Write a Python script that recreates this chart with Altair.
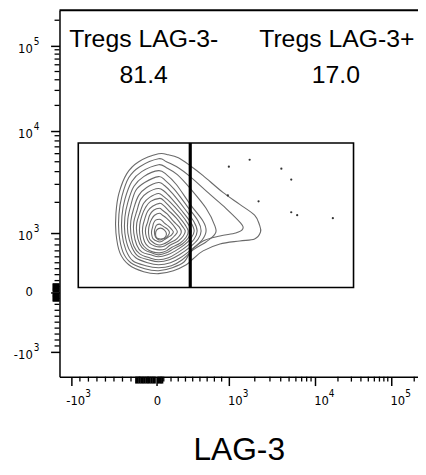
import math
import altair as alt
import pandas as pd

# ---------------- axis calibration (display channel units at decade ticks) ----
X_TICK_VALUES = [-1000, 0, 1000, 10000, 100000]
X_TICK_DISPLAY = [12, 98, 171, 258, 335]
X_TICK_BASE = ["-10", "0", "10", "10", "10"]
X_TICK_EXP = ["3", "", "3", "4", "5"]

Y_TICK_VALUES = [-1000, 0, 1000, 10000, 100000]
Y_TICK_DISPLAY = [25, 85, 145, 248, 334]
Y_TICK_BASE = ["-10", "0", "10", "10", "10"]
Y_TICK_EXP = ["3", "", "3", "4", "5"]

MINOR_LINEAR = [-900, -800, -700, -600, -500, -400, -300, -200, -100,
                100, 200, 300, 400, 500, 600, 700, 800, 900]
MINOR_DENSE_X = [-240, -220, -200, -180, -160, -140, -120, -100, -80, -60,
                 -40, -20, 20, 40, 60, 80]
MINOR_DENSE_Y = [-140, -120, -100, -80, -60, -40, -20, 20, 40, 60, 80, 100,
                 120, 140]
MINOR_LOG = [2000, 3000, 4000, 5000, 6000, 7000, 8000, 9000,
             20000, 30000, 40000, 50000, 60000, 70000, 80000, 90000, 200000]

# ---------------- gates (fluorescence values) --------------------------------
GATE_X = [-919, 466, 32000]      # left edge, LAG-3 split, right edge
GATE_Y = [83, 7640]              # bottom, top
GATE_NAMES = ["Tregs LAG-3-", "Tregs LAG-3+"]
GATE_PCTS = ["81.4", "17.0"]
NAME_X = [85, 280]
NAME_Y = [333, 333]
PCT_X = [85, 279]
PCT_Y = [297, 297]

# ---------------- contour lines (display units) ------
CONTOURS = [
    [(100,225),(80,217),(68,205),(60,185),(57,165),(57,145),(61,125),(70,113),(85,106),(100,104),(115,107),(128,113),(135,119),(145,127),(162,134),(182,137),(197,139),(203,146),(202,153),(197,163),(182,174),(165,186),(145,203),(132,213),(120,221),(110,224)],
    [(100,220),(81,212),(70,201),(63,182),(60,164),(60,145),(64,126),(72,115),(86,109),(100,107),(114,110),(126,116),(133,127),(145,137),(162,142),(178,145),(185,149),(183,155),(168,170),(152,184),(132,202),(120,211),(108,217)],
    [(100,214),(83,207),(73,197),(66,179),(63,162),(63,145),(67,128),(74,117),(87,112),(100,110),(113,112),(124,118),(135,128),(148,136),(157,144),(157,152),(148,170),(132,190),(119,204),(108,211)],
    [(100,208),(85,202),(75,192),(69,176),(66,161),(66,145),(70,129),(77,120),(89,115),(100,113),(112,115),(122,120),(134,129),(144,138),(148,147),(145,157),(132,174),(118,194),(108,204)],
    [(100,202),(86,196),(77,188),(72,173),(69,159),(69,145),(73,131),(79,122),(90,118),(100,116),(111,118),(121,123),(132,131),(140,139),(143,147),(140,157),(129,172),(116,189),(107,198)],
    [(100,196),(88,191),(80,183),(75,170),(72,157),(72,145),(75,132),(81,124),(91,120),(100,118),(110,120),(119,125),(129,132),(136,139),(139,147),(136,156),(126,170),(114,185),(106,193)],
    [(100,190),(89,186),(82,179),(78,167),(75,156),(75,145),(78,133),(83,126),(92,123),(100,121),(109,123),(117,127),(126,133),(133,140),(136,147),(133,155),(124,167),(113,180),(106,187)],
    [(100,185),(91,181),(85,175),(81,165),(78,155),(78,145),(81,134),(86,128),(93,125),(100,123),(108,125),(115,129),(124,134),(130,140),(133,147),(130,154),(122,165),(112,176),(105,182)],
    [(101,180),(92,177),(87,171),(83,162),(81,153),(81,144),(83,135),(88,129),(94,126),(101,125),(108,127),(114,131),(122,135),(128,141),(130,147),(127,153),(120,162),(111,172),(105,178)],
    [(101,175),(94,172),(89,167),(86,159),(84,151),(84,144),(86,136),(90,131),(95,129),(101,128),(107,129),(112,133),(120,137),(125,142),(127,147),(124,152),(118,160),(110,168),(105,173)],
    [(101,170),(95,168),(91,163),(89,156),(87,150),(87,144),(89,138),(92,134),(96,132),(101,131),(106,132),(111,135),(117,138),(121,142),(123,146),(121,151),(115,157),(109,164),(104,168)],
    [(101,165),(96,163),(93,159),(91,154),(90,149),(90,144),(91,139),(94,136),(97,134),(101,133),(105,134),(109,136),(113,139),(116,142),(119,146),(117,150),(113,155),(108,160),(104,163)],
    [(101,159),(97,158),(95,155),(94,151),(93,147),(93,144),(94,140),(96,138),(98,137),(101,136),(104,137),(107,139),(110,141),(113,143),(115,146),(113,149),(110,152),(106,155),(103,158)],
    [(101,154),(98,153),(97,151),(96,148),(96,144),(97,141),(99,139),(101,138),(104,139),(107,140),(110,143),(111,146),(109,149),(106,151),(103,153)],
    [(102,150),(98,148),(97,144),(98,140),(102,139),(106,140),(108,144),(106,148)],
]

# scattered single events in the LAG-3+ gate (display units)
DOT_X = [171, 192, 224, 234, 170, 201, 234, 240, 276]
DOT_Y = [212, 219, 210, 199, 183, 177, 166, 163, 160]

W, H = 362, 370
LABEL_FONT = "Liberation Sans Narrow, DejaVu Sans Condensed, Liberation Sans, sans-serif"


def to_display(v, knots):
    a, z, b, c, d = knots
    if v <= 0:
        return z + (v / 1000.0) * (z - a)
    if v <= 1000:
        return z + (v / 1000.0) * (b - z)
    lg = math.log10(v)
    if lg <= 4:
        return b + (lg - 3) * (c - b)
    return c + (lg - 4) * (d - c)


xscale = alt.Scale(domain=[0, W], nice=False, zero=False)
yscale = alt.Scale(domain=[0, H], nice=False, zero=False)

x_axis = alt.Axis(values=X_TICK_DISPLAY, labels=False,
                  title="LAG-3", titleFontSize=32, titleFont="Liberation Sans",
                  titleFontWeight="normal", titleColor="black", titlePadding=49)
y_axis = alt.Axis(values=Y_TICK_DISPLAY, labels=False, title="")


def X(field="x"):
    return alt.X(f"{field}:Q", scale=xscale, axis=x_axis)


def Y(field="y"):
    return alt.Y(f"{field}:Q", scale=yscale, axis=y_axis)


# contour table
rows = []
for ci, ring in enumerate(CONTOURS):
    for pi, (px, py) in enumerate(ring):
        rows.append({"c": ci, "i": pi, "x": px, "y": py})
cdf = pd.DataFrame(rows)

contours = alt.Chart(cdf).mark_line(
    interpolate="cardinal-closed", color="#6a6a6a", strokeWidth=1.1
).encode(x=X(), y=Y(), detail="c:N", order="i:Q")

# gate rectangle and split
gdf = pd.DataFrame({
    "x": [to_display(GATE_X[0], X_TICK_DISPLAY)],
    "x2": [to_display(GATE_X[2], X_TICK_DISPLAY)],
    "y": [to_display(GATE_Y[0], Y_TICK_DISPLAY)],
    "y2": [to_display(GATE_Y[1], Y_TICK_DISPLAY)],
})
gate = alt.Chart(gdf).mark_rect(fillOpacity=0, stroke="black", strokeWidth=1.6).encode(
    x=X(), x2="x2:Q", y=Y(), y2="y2:Q")

sdf = pd.DataFrame({
    "x": [to_display(GATE_X[1], X_TICK_DISPLAY)],
    "y": [to_display(GATE_Y[0], Y_TICK_DISPLAY)],
    "y2": [to_display(GATE_Y[1], Y_TICK_DISPLAY)],
})
split = alt.Chart(sdf).mark_rule(color="black", strokeWidth=3.2).encode(x=X(), y=Y(), y2="y2:Q")

dots = alt.Chart(pd.DataFrame({"x": DOT_X, "y": DOT_Y})).mark_circle(
    size=5, color="#333333", opacity=1).encode(x=X(), y=Y())

names = alt.Chart(pd.DataFrame({"x": NAME_X, "y": NAME_Y, "t": GATE_NAMES})).mark_text(
    font="Liberation Sans", fontSize=25, color="black", align="center", baseline="alphabetic"
).encode(x=X(), y=Y(), text="t:N")
pcts = alt.Chart(pd.DataFrame({"x": PCT_X, "y": PCT_Y, "t": GATE_PCTS})).mark_text(
    font="Liberation Sans", fontSize=25, color="black", align="center", baseline="alphabetic"
).encode(x=X(), y=Y(), text="t:N")

# minor ticks
def inside(vals, knots, lim):
    out = []
    for v in vals:
        d = to_display(v, knots)
        if 0 <= d <= lim:
            out.append(d)
    return out

xminor = pd.DataFrame({"x": inside(MINOR_LINEAR + MINOR_LOG, X_TICK_DISPLAY, W)})
xdense = pd.DataFrame({"x": inside(MINOR_DENSE_X, X_TICK_DISPLAY, W)})
yminor = pd.DataFrame({"y": inside(MINOR_LINEAR + MINOR_LOG, Y_TICK_DISPLAY, H)})
ydense = pd.DataFrame({"y": inside(MINOR_DENSE_Y, Y_TICK_DISPLAY, H)})

xm = alt.Chart(xminor).mark_rule(color="black", strokeWidth=1.3).encode(
    x=X(), y=alt.value(H), y2=alt.value(H + 5))
xd = alt.Chart(xdense).mark_rule(color="black", strokeWidth=2).encode(
    x=X(), y=alt.value(H), y2=alt.value(H + 7))
ym = alt.Chart(yminor).mark_rule(color="black", strokeWidth=1.3).encode(
    y=Y(), x=alt.value(0), x2=alt.value(-5))
yd = alt.Chart(ydense).mark_rule(color="black", strokeWidth=2).encode(
    y=Y(), x=alt.value(0), x2=alt.value(-7))

top_border = alt.Chart(pd.DataFrame({"a": [0]})).mark_rule(color="black", strokeWidth=2).encode(
    x=alt.value(0), x2=alt.value(W), y=alt.value(0))

# tick labels: base "10" with a raised exponent
xl = pd.DataFrame({"x": X_TICK_DISPLAY, "b": X_TICK_BASE, "e": X_TICK_EXP})
yl = pd.DataFrame({"y": Y_TICK_DISPLAY, "b": Y_TICK_BASE, "e": Y_TICK_EXP})
xl_pow, xl_zero = xl[xl.e != ""], xl[xl.e == ""]
yl_pow, yl_zero = yl[yl.e != ""], yl[yl.e == ""]

txt = dict(font=LABEL_FONT, color="black")
xb = alt.Chart(xl_pow).mark_text(align="right", baseline="middle", dx=14, fontSize=13, **txt).encode(
    x=X(), y=alt.value(H + 25), text="b:N")
xe = alt.Chart(xl_pow).mark_text(align="left", baseline="middle", dx=14, fontSize=10, **txt).encode(
    x=X(), y=alt.value(H + 18), text="e:N")
xz = alt.Chart(xl_zero).mark_text(align="center", baseline="middle", dx=1, fontSize=13, **txt).encode(
    x=X(), y=alt.value(H + 25), text="b:N")
yb = alt.Chart(yl_pow).mark_text(align="right", baseline="middle", dy=3, fontSize=13, **txt).encode(
    y=Y(), x=alt.value(-27), text="b:N")
ye = alt.Chart(yl_pow).mark_text(align="left", baseline="middle", dy=-4, dx=1, fontSize=10, **txt).encode(
    y=Y(), x=alt.value(-27), text="e:N")
yz = alt.Chart(yl_zero).mark_text(align="right", baseline="middle", fontSize=13, **txt).encode(
    y=Y(), x=alt.value(-27), text="b:N")

chart = alt.layer(contours, gate, split, dots, names, pcts, xm, xd, ym, yd, top_border,
                  xb, xe, xz, yb, ye, yz).properties(
    width=W, height=H,
    padding={"left": 52, "top": 0, "right": 0, "bottom": 89},
    autosize=alt.AutoSizeParams(type="none"),
).configure_view(stroke=None).configure_axis(
    domainColor="black", domainWidth=1.5, tickColor="black", tickWidth=1.5, tickSize=9,
    grid=False,
)

chart.save("out.html", embed_options={"renderer": "svg", "actions": False})
